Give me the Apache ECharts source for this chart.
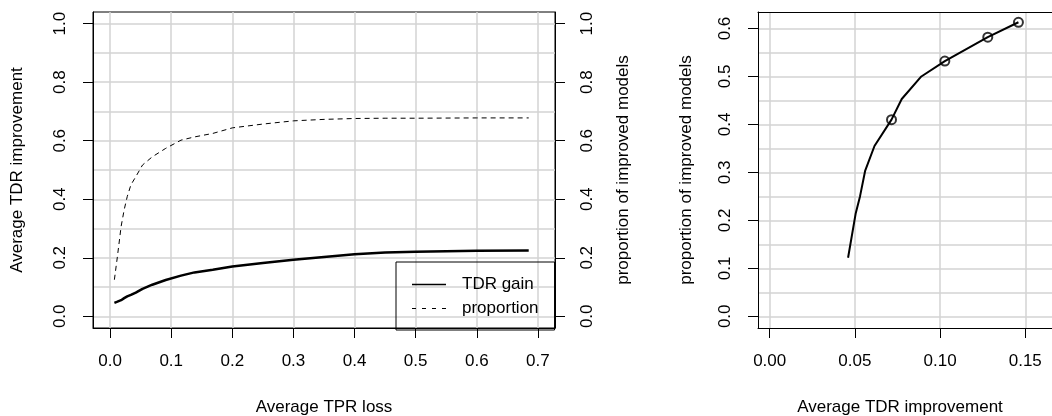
<!DOCTYPE html>
<html>
<head>
<meta charset="utf-8">
<script src="https://cdn.jsdelivr.net/npm/echarts@6/dist/echarts.min.js"></script>
<style>
  html, body { margin: 0; padding: 0; background: #fff; }
  #chart { width: 1052px; height: 416px; }
</style>
</head>
<body>
<div id="chart"></div>
<script>
// left panel: TDR gain and proportion vs average TPR loss
const tprLoss = [0.007, 0.012, 0.018, 0.023, 0.028, 0.034, 0.042, 0.053, 0.069, 0.091, 0.116, 0.138, 0.168, 0.2, 0.25, 0.3, 0.35, 0.4, 0.45, 0.5, 0.6, 0.685]
const tdrGain = [0.046, 0.050, 0.055, 0.062, 0.068, 0.073, 0.081, 0.094, 0.108, 0.124, 0.139, 0.150, 0.159, 0.170, 0.182, 0.193, 0.203, 0.212, 0.218, 0.221, 0.224, 0.225]
const proportion = [0.125, 0.205, 0.307, 0.364, 0.409, 0.449, 0.477, 0.517, 0.545, 0.574, 0.602, 0.613, 0.625, 0.644, 0.657, 0.668, 0.673, 0.676, 0.677, 0.677, 0.678, 0.678]

// right panel: proportion vs average TDR improvement
const tdrImprove = [0.046, 0.0505, 0.053, 0.056, 0.0615, 0.0715, 0.0775, 0.089, 0.1028, 0.128, 0.146]
const propImproved = [0.122, 0.215, 0.25, 0.303, 0.355, 0.41, 0.453, 0.5, 0.532, 0.582, 0.613]
const markedX = [0.0715, 0.1028, 0.128, 0.146]
const markedY = [0.41, 0.532, 0.582, 0.613]

// tick labels
const leftXTicks = [0, 0.1, 0.2, 0.3, 0.4, 0.5, 0.6, 0.7]
const leftYTicks = [0, 0.2, 0.4, 0.6, 0.8, 1.0]
const leftYGrid = [0, 0.1, 0.2, 0.3, 0.4, 0.5, 0.6, 0.7, 0.8, 0.9, 1.0]
const rightXTicks = [0, 0.05, 0.10, 0.15]
const rightYTicks = [0, 0.1, 0.2, 0.3, 0.4, 0.5, 0.6]
const rightYGrid = [0, 0.05, 0.1, 0.15, 0.2, 0.25, 0.3, 0.35, 0.4, 0.45, 0.5, 0.55, 0.6]

const FONT = '"Liberation Sans", Arial, Helvetica, sans-serif'
const FS = 17
const GRID_LINE = { show: true, lineStyle: { color: '#d3d3d3', width: 1.5 } }
const TICK = { length: 10, inside: false, lineStyle: { color: '#000', width: 1 } }
const BOX_LINE = { show: true, onZero: false, lineStyle: { color: '#000', width: 1 } }

const zip = (xs, ys) => xs.map((x, i) => [x, ys[i]])

function valueAxis(extra) {
  return Object.assign({
    type: 'value',
    scale: true,
    axisLine: { show: false, onZero: false },
    splitLine: { show: false },
    axisTick: { show: false },
    axisLabel: { show: false }
  }, extra)
}

function tickLabels(ticks, digits, margin, rotate) {
  return {
    show: true,
    customValues: ticks,
    margin,
    rotate: rotate || 0,
    color: '#000',
    fontFamily: FONT,
    fontSize: FS,
    formatter: v => v.toFixed(digits)
  }
}

// axis with black line (sits on the box edge), outward ticks and labels
function tickAxis(ticks, digits, margin, rotate, extra) {
  return valueAxis(Object.assign({
    axisLine: BOX_LINE,
    axisTick: Object.assign({ show: true, customValues: ticks }, TICK),
    axisLabel: tickLabels(ticks, digits, margin, rotate)
  }, extra))
}

function gridAxis(ticks, extra) {
  return valueAxis(Object.assign({
    axisTick: { show: false, customValues: ticks },
    splitLine: GRID_LINE
  }, extra))
}

function label(text, x, y, rotate) {
  return {
    type: 'text',
    x, y,
    rotation: rotate ? Math.PI / 2 : 0,
    style: { text, fill: '#000', font: `${FS}px ${FONT}`, align: 'center', verticalAlign: 'middle' }
  }
}

const chart = echarts.init(document.getElementById('chart'), null, { renderer: 'canvas' })

chart.setOption({
  animation: false,
  backgroundColor: '#fff',
  grid: [
    { left: 93, top: 12, width: 462, height: 316, show: true, borderColor: '#000', borderWidth: 1, backgroundColor: 'transparent' },
    // right panel runs past the window edge, so no right border
    { left: 758, top: 12, right: 0, height: 316 }
  ],
  xAxis: [
    tickAxis(leftXTicks, 1, 25, 0, { gridIndex: 0, min: -0.028, max: 0.728, splitLine: GRID_LINE }),
    tickAxis(rightXTicks, 2, 25, 0, { gridIndex: 1, min: -0.00687, max: 0.1657, splitLine: GRID_LINE }),
    valueAxis({ gridIndex: 1, position: 'top', min: -0.00687, max: 0.1657, axisLine: BOX_LINE })
  ],
  yAxis: [
    tickAxis(leftYTicks, 1, 24, 90, { gridIndex: 0, min: -0.04, max: 1.04 }),
    tickAxis(leftYTicks, 1, 24, 90, { gridIndex: 0, min: -0.04, max: 1.04, position: 'right' }),
    gridAxis(leftYGrid, { gridIndex: 0, min: -0.04, max: 1.04 }),
    tickAxis(rightYTicks, 1, 24, 90, { gridIndex: 1, min: -0.0244, max: 0.6344 }),
    gridAxis(rightYGrid, { gridIndex: 1, min: -0.0244, max: 0.6344 })
  ],
  legend: {
    left: 396,
    top: 262,
    orient: 'vertical',
    data: [
      { name: 'TDR gain', icon: 'path://M0,0h34v1.3h-34z' },
      { name: 'proportion', icon: 'path://M0,0h4v1h-4z M10,0h4v1h-4z M20,0h4v1h-4z M30,0h4v1h-4z' }
    ],
    borderColor: '#000',
    borderWidth: 1,
    borderRadius: 0,
    padding: [14, 16, 13, 16],
    itemWidth: 34,
    itemHeight: 14,
    itemGap: 7,
    textStyle: { color: '#000', fontFamily: FONT, fontSize: FS, padding: [0, 0, 0, 11] }
  },
  series: [
    {
      name: 'TDR gain',
      type: 'line',
      xAxisIndex: 0, yAxisIndex: 0,
      data: zip(tprLoss, tdrGain),
      symbol: 'none',
      lineStyle: { color: '#000', width: 2.5 },
      itemStyle: { color: '#000' }
    },
    {
      name: 'proportion',
      type: 'line',
      xAxisIndex: 0, yAxisIndex: 0,
      data: zip(tprLoss, proportion),
      symbol: 'none',
      lineStyle: { color: '#000', width: 1, type: [5, 4] },
      itemStyle: { color: '#000' }
    },
    {
      type: 'line',
      xAxisIndex: 1, yAxisIndex: 3,
      data: zip(tdrImprove, propImproved),
      symbol: 'none',
      lineStyle: { color: '#000', width: 2 }
    },
    {
      type: 'scatter',
      xAxisIndex: 1, yAxisIndex: 3,
      data: zip(markedX, markedY),
      symbol: 'circle',
      symbolSize: 9,
      itemStyle: { color: 'rgba(0,0,0,0)', borderColor: '#000', borderWidth: 2 }
    }
  ],
  graphic: [
    label('Average TPR loss', 324, 407),
    label('Average TDR improvement', 17, 170, true),
    label('proportion of improved models', 623, 170, true),
    label('proportion of improved models', 686, 170, true),
    label('Average TDR improvement', 900, 407)
  ]
})
</script>
</body>
</html>
